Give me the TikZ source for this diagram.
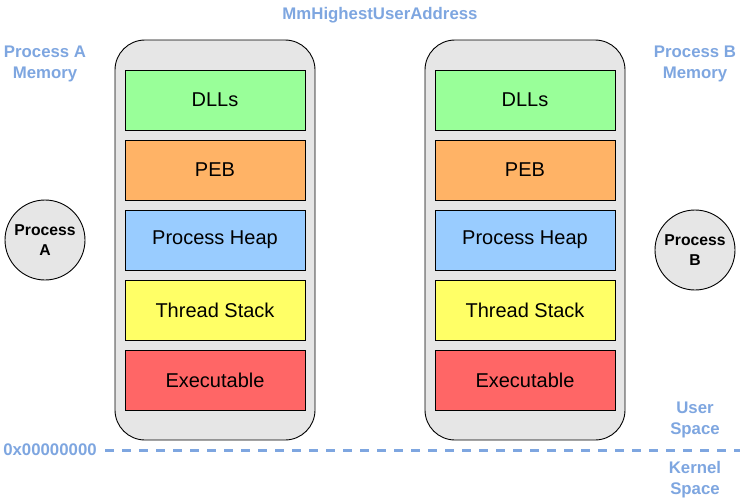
\documentclass[tikz,border=0pt]{standalone}
\usepackage{fontspec}
\setmainfont{Liberation Sans}
\definecolor{lblue}{HTML}{7EA6E0}
\definecolor{cgray}{HTML}{E6E6E6}
\definecolor{cdll}{HTML}{99FF99}
\definecolor{cpeb}{HTML}{FFB366}
\definecolor{cheap}{HTML}{99CCFF}
\definecolor{cstack}{HTML}{FFFF66}
\definecolor{cexe}{HTML}{FF6666}
\begin{document}
\begin{tikzpicture}[x=1pt,y=-1pt,
  container/.style={draw=black,fill=cgray,rounded corners=30pt,line width=0.9pt,minimum width=200pt,minimum height=400pt,inner sep=0pt},
  seg/.style={draw=black,line width=0.9pt,minimum width=180pt,minimum height=60pt,inner sep=0pt,font=\fontsize{20}{24}\selectfont},
  proc/.style={circle,draw=black,fill=cgray,line width=0.9pt,minimum size=80pt,inner sep=0pt,align=center,font=\fontsize{15.7}{20}\selectfont\bfseries},
  lbl/.style={text=lblue,align=center,font=\fontsize{16.8}{21}\selectfont\bfseries,inner sep=0pt}]
\useasboundingbox (0,0) rectangle (741,501);
\node[container] (ca) at (215,240) {};
\node[container] (cb) at (525,240) {};
\foreach \c/\x in {a/215,b/525}{
  \node[seg,fill=cdll] (dll\c) at (\x,100) {DLLs};
  \node[seg,fill=cpeb] (peb\c) at (\x,170) {PEB};
  \node[seg,fill=cheap] (heap\c) at (\x,240) {Process Heap};
  \node[seg,fill=cstack] (stack\c) at (\x,310) {Thread Stack};
  \node[seg,fill=cexe] (exe\c) at (\x,380) {Executable};
}
\node[proc] (pa) at (45,240) {Process\\A};
\node[proc] (pb) at (695,250) {Process\\B};
\node[lbl] (top) at (380,15) {MmHighestUserAddress};
\node[lbl] (ma) at (45,64) {Process A\\Memory};
\node[lbl] (mb) at (695,64) {Process B\\Memory};
\node[lbl] (zero) at (50,450) {0x00000000};
\node[lbl] (us) at (695,420) {User\\Space};
\node[lbl] (ks) at (695,480) {Kernel\\Space};
\coordinate (lstart) at (105,450);
\coordinate (lend) at (740,450);
\draw[lblue,line width=3pt,dash pattern=on 9pt off 8pt] (lstart) -- (lend);
\end{tikzpicture}
\end{document}
